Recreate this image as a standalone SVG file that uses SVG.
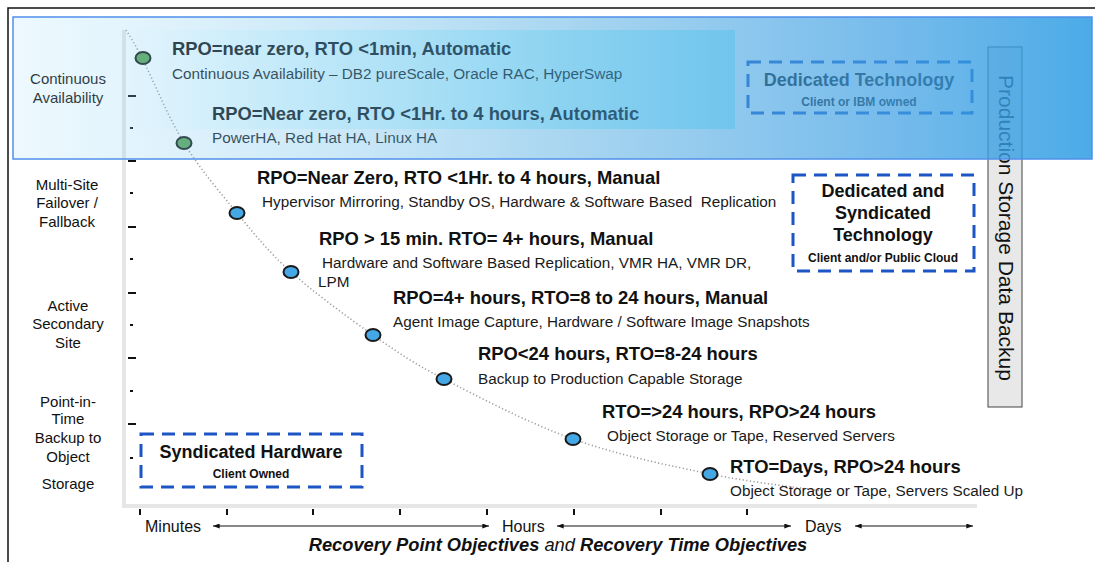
<svg xmlns="http://www.w3.org/2000/svg" width="1095" height="562" viewBox="0 0 1095 562">
  <defs>
    <style>
      text { font-family: "Liberation Sans", Arial, Helvetica, sans-serif; }
      .frame { fill: none; stroke: #111; stroke-width: 1.5; }
      .plot { fill: none; stroke: #e6e6e6; stroke-width: 4; }
      .tick { stroke: #111; stroke-width: 2; }
      .curve { fill: none; stroke: #9c9c9c; stroke-width: 1.6; stroke-dasharray: 1.2 2.4; }
      .axarrow { fill: none; stroke: #111; stroke-width: 1; marker-start: url(#arrowhead); marker-end: url(#arrowhead); }
      .dot-green { fill: #5aa552; stroke: #1a1a1a; stroke-width: 2; }
      .dot-blue { fill: #45a8e6; stroke: #1a1a1a; stroke-width: 2; }
      .title { font-size: 18.4px; font-weight: bold; fill: #111; }
      .sub { font-size: 15.3px; fill: #1a1a1a; }
      .cat { font-size: 15px; fill: #111; text-anchor: middle; }
      .axlabel { font-size: 16px; fill: #111; }
      .dash { fill: none; stroke: #1d55c4; stroke-width: 3; stroke-dasharray: 13 8; }
      .boxhead { font-size: 18px; font-weight: bold; fill: #111; text-anchor: middle; }
      .boxnote { font-size: 12px; font-weight: bold; fill: #111; text-anchor: middle; }
    </style>
    <marker id="arrowhead" viewBox="0 0 8 6" refX="8" refY="3" markerWidth="7" markerHeight="5" markerUnits="userSpaceOnUse" orient="auto-start-reverse">
      <path d="M0,0 L8,3 L0,6 z" fill="#111"/>
    </marker>
    <!-- translucent blue band that sits over the top tier -->
    <linearGradient id="bandFill" x1="0" y1="0" x2="1" y2="0">
      <stop offset="0" stop-color="#9adcfa" stop-opacity="0.18"/>
      <stop offset="0.5" stop-color="#48a8e0" stop-opacity="0.46"/>
      <stop offset="0.8" stop-color="#44a2e4" stop-opacity="0.72"/>
      <stop offset="1" stop-color="#2c9ce3" stop-opacity="0.85"/>
    </linearGradient>
    <linearGradient id="innerFill" x1="0" y1="0" x2="1" y2="0">
      <stop offset="0" stop-color="#b4f6ff" stop-opacity="0"/>
      <stop offset="1" stop-color="#b4f6ff" stop-opacity="1"/>
    </linearGradient>
  </defs>

  <rect x="0" y="0" width="1095" height="562" fill="#ffffff"/>

  <!-- outer frame -->
  <path class="frame" d="M8,562 V8 H1095"/>

  <!-- highlighted strip behind the two automatic tiers -->
  <rect x="120" y="30" width="615" height="99" fill="url(#innerFill)"/>

  <!-- plot axes -->
  <g id="axes">
    <path class="plot" d="M124,30 V506 H977"/>
    <g id="y-ticks">
      <line class="tick" x1="128" y1="96" x2="136" y2="96"/>
      <line class="tick" x1="130" y1="128" x2="133" y2="128"/>
      <line class="tick" x1="128" y1="161" x2="136" y2="161"/>
      <line class="tick" x1="130" y1="193" x2="133" y2="193"/>
      <line class="tick" x1="128" y1="227" x2="136" y2="227"/>
      <line class="tick" x1="130" y1="259" x2="133" y2="259"/>
      <line class="tick" x1="128" y1="293" x2="136" y2="293"/>
      <line class="tick" x1="130" y1="325" x2="133" y2="325"/>
      <line class="tick" x1="128" y1="358" x2="136" y2="358"/>
      <line class="tick" x1="130" y1="391" x2="133" y2="391"/>
      <line class="tick" x1="128" y1="424" x2="136" y2="424"/>
      <line class="tick" x1="130" y1="458" x2="133" y2="458"/>
    </g>
    <g id="x-ticks">
      <line class="tick" x1="140" y1="509" x2="140" y2="515"/>
      <line class="tick" x1="227" y1="509" x2="227" y2="515"/>
      <line class="tick" x1="313" y1="509" x2="313" y2="515"/>
      <line class="tick" x1="400" y1="509" x2="400" y2="515"/>
      <line class="tick" x1="487" y1="509" x2="487" y2="515"/>
      <line class="tick" x1="574" y1="509" x2="574" y2="515"/>
      <line class="tick" x1="661" y1="509" x2="661" y2="515"/>
      <line class="tick" x1="747" y1="509" x2="747" y2="515"/>
    </g>
  </g>

  <!-- category labels -->
  <g id="cat-continuous">
    <text class="cat" x="68" y="84">Continuous</text>
    <text class="cat" x="68" y="103">Availability</text>
  </g>
  <g id="cat-multisite">
    <text class="cat" x="67" y="190">Multi-Site</text>
    <text class="cat" x="67" y="208">Failover /</text>
    <text class="cat" x="67" y="227">Fallback</text>
  </g>
  <g id="cat-active">
    <text class="cat" x="68" y="311">Active</text>
    <text class="cat" x="68" y="329">Secondary</text>
    <text class="cat" x="68" y="348">Site</text>
  </g>
  <g id="cat-pit">
    <text class="cat" x="68" y="407">Point-in-</text>
    <text class="cat" x="68" y="424">Time</text>
    <text class="cat" x="68" y="443">Backup to</text>
    <text class="cat" x="68" y="462">Object</text>
    <text class="cat" x="68" y="489">Storage</text>
  </g>

  <!-- connectors: recovery curve and time-scale arrows -->
  <g id="connectors">
    <path class="curve" d="M126,30 C128.7,34.7 132.3,39.2 142,58 C151.7,76.8 168.2,117.2 184,143 C199.8,168.8 219.2,191.5 237,213 C254.8,234.5 268.3,251.7 291,272 C313.7,292.3 347.5,317.2 373,335 C398.5,352.8 410.7,361.7 444,379 C477.3,396.3 528.7,423.2 573,439 C617.3,454.8 667.2,465.2 710,474 C752.8,482.8 810,489 830,492"/>
    <line class="axarrow" x1="213" y1="526" x2="489" y2="526"/>
    <line class="axarrow" x1="557" y1="526" x2="791" y2="526"/>
    <line class="axarrow" x1="855" y1="526" x2="973" y2="526"/>
  </g>

  <!-- tiers on the curve -->
  <g id="tier-1">
    <ellipse class="dot-green" cx="143" cy="58" rx="7.5" ry="6"/>
    <text class="title" x="172" y="55">RPO=near zero, RTO &lt;1min, Automatic</text>
    <text class="sub" x="172" y="79">Continuous Availability – DB2 pureScale, Oracle RAC, HyperSwap</text>
  </g>
  <g id="tier-2">
    <ellipse class="dot-green" cx="184" cy="143" rx="7.5" ry="6"/>
    <text class="title" x="212" y="120">RPO=Near zero, RTO &lt;1Hr. to 4 hours, Automatic</text>
    <text class="sub" x="212" y="143">PowerHA, Red Hat HA, Linux HA</text>
  </g>
  <g id="tier-3">
    <ellipse class="dot-blue" cx="237" cy="213" rx="7.5" ry="6"/>
    <text class="title" x="257" y="184">RPO=Near Zero, RTO &lt;1Hr. to 4 hours, Manual</text>
    <text class="sub" x="262" y="207" xml:space="preserve">Hypervisor Mirroring, Standby OS, Hardware &amp; Software Based  Replication</text>
  </g>
  <g id="tier-4">
    <ellipse class="dot-blue" cx="291" cy="272" rx="7.5" ry="6"/>
    <text class="title" x="319" y="245">RPO &gt; 15 min. RTO= 4+ hours, Manual</text>
    <text class="sub" x="322" y="268">Hardware and Software Based Replication, VMR HA, VMR DR,</text>
    <text class="sub" x="318" y="287">LPM</text>
  </g>
  <g id="tier-5">
    <ellipse class="dot-blue" cx="373" cy="335" rx="7.5" ry="6"/>
    <text class="title" x="393" y="304">RPO=4+ hours, RTO=8 to 24 hours, Manual</text>
    <text class="sub" x="393" y="327">Agent Image Capture, Hardware / Software Image Snapshots</text>
  </g>
  <g id="tier-6">
    <ellipse class="dot-blue" cx="444" cy="379" rx="7.5" ry="6"/>
    <text class="title" x="478" y="360">RPO&lt;24 hours, RTO=8-24 hours</text>
    <text class="sub" x="478" y="384">Backup to Production Capable Storage</text>
  </g>
  <g id="tier-7">
    <ellipse class="dot-blue" cx="573" cy="439" rx="7.5" ry="6"/>
    <text class="title" x="602" y="418">RTO=&gt;24 hours, RPO&gt;24 hours</text>
    <text class="sub" x="607" y="441">Object Storage or Tape, Reserved Servers</text>
  </g>
  <g id="tier-8">
    <ellipse class="dot-blue" cx="710" cy="474" rx="7.5" ry="6"/>
    <text class="title" x="730" y="473">RTO=Days, RPO&gt;24 hours</text>
    <text class="sub" x="730" y="496">Object Storage or Tape, Servers Scaled Up</text>
  </g>

  <!-- ownership boxes -->
  <g id="box-dedicated">
    <rect class="dash" x="748" y="62" width="224" height="51"/>
    <text class="boxhead" x="859" y="86">Dedicated Technology</text>
    <text class="boxnote" x="859" y="106">Client or IBM owned</text>
  </g>
  <g id="box-dedicated-syndicated">
    <rect class="dash" x="793" y="175" width="181" height="96"/>
    <text class="boxhead" x="883" y="197">Dedicated and</text>
    <text class="boxhead" x="883" y="219">Syndicated</text>
    <text class="boxhead" x="883" y="241">Technology</text>
    <text class="boxnote" x="883" y="262">Client and/or Public Cloud</text>
  </g>
  <g id="box-syndicated-hw">
    <rect class="dash" x="141" y="434" width="221" height="53"/>
    <text class="boxhead" x="251" y="458">Syndicated Hardware</text>
    <text class="boxnote" x="251" y="478">Client Owned</text>
  </g>

  <g id="box-backup">
    <rect x="988" y="47" width="34" height="360" fill="#e8e8e8" stroke="#444" stroke-width="1"/>
    <text transform="translate(999,228) rotate(90)" text-anchor="middle" font-size="21" fill="#111">Production Storage Data Backup</text>
  </g>

  <!-- axis labels -->
  <g id="x-labels">
    <text class="axlabel" x="145" y="532">Minutes</text>
    <text class="axlabel" x="502" y="532">Hours</text>
    <text class="axlabel" x="805" y="532">Days</text>
    <text x="558" y="551" text-anchor="middle" font-size="18.3" font-style="italic" fill="#111"><tspan font-weight="bold">Recovery Point Objectives</tspan> and <tspan font-weight="bold">Recovery Time Objectives</tspan></text>
  </g>

  <!-- translucent band over the automatic tiers -->
  <rect id="band" x="13" y="17" width="1079" height="142" fill="url(#bandFill)" stroke="#4f8fea" stroke-width="1.5"/>
</svg>
